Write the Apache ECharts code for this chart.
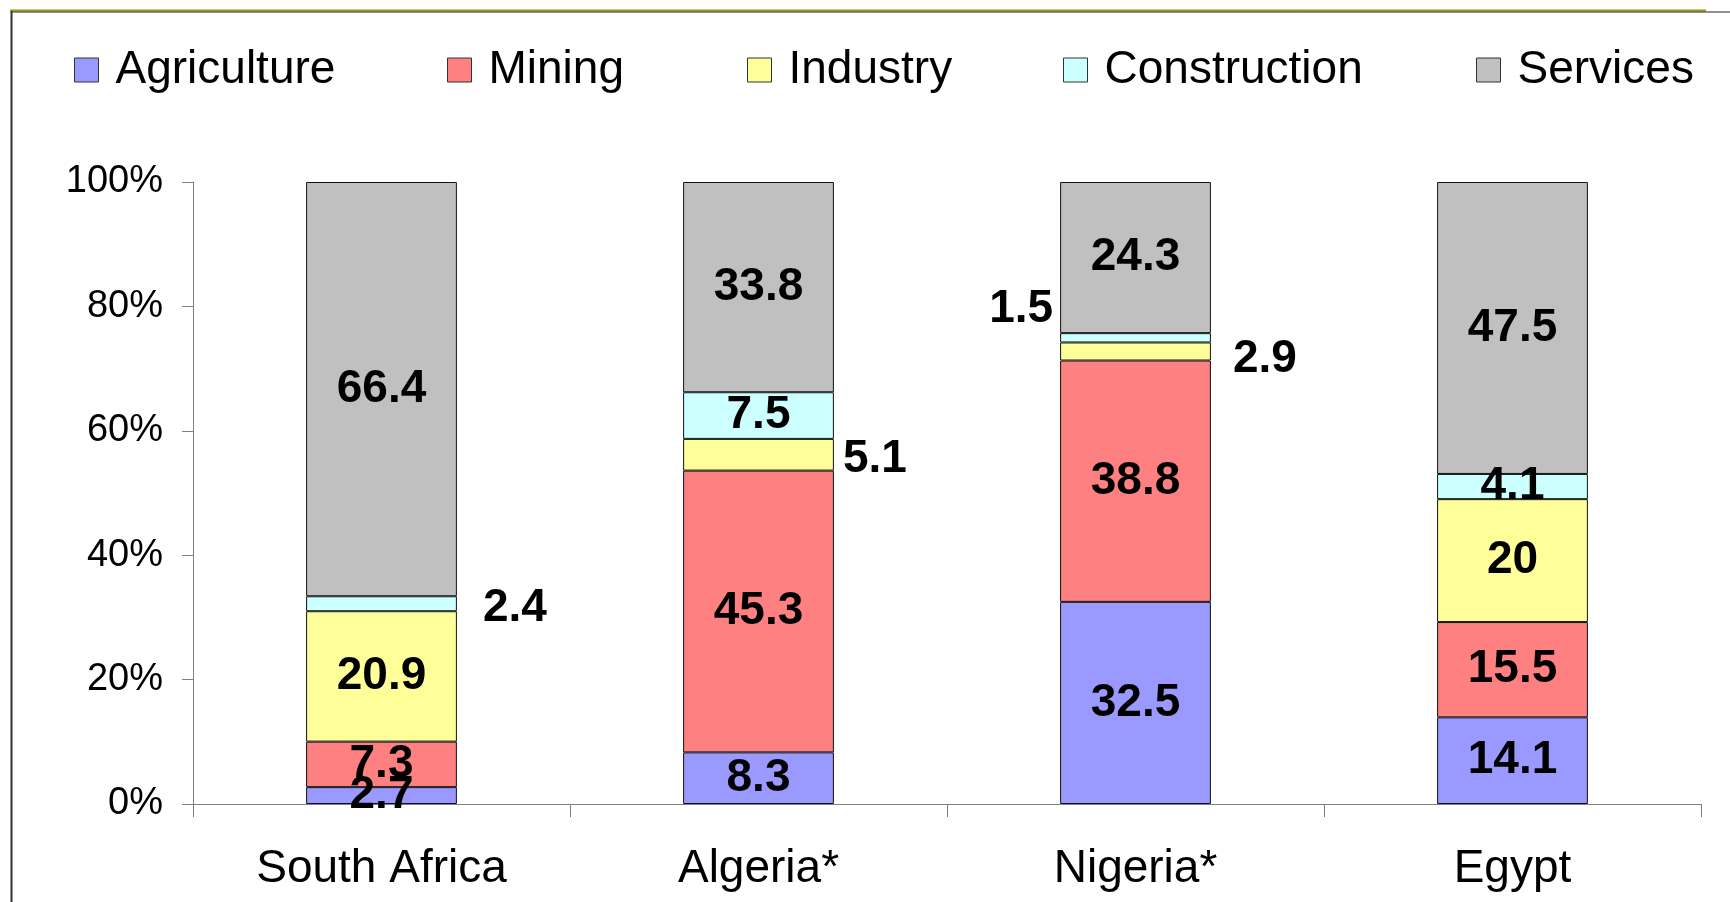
<!DOCTYPE html>
<html>
	<head>
		<meta charset="utf-8">
		<title></title>
		<style>
			html, body { margin: 0; padding: 0; background: #fff; }
		</style>
	</head>
	<body>
		<div id='chart' style="width: 1730px; height: 902px;"></div>
	</body>
	<script src='https://cdn.jsdelivr.net/npm/echarts@6/dist/echarts.min.js'></script>
	<script>

	// data
	var countries = ['South Africa', 'Algeria*', 'Nigeria*', 'Egypt'];
	var agriculture = [2.7, 8.3, 32.5, 14.1];
	var mining = [7.3, 45.3, 38.8, 15.5];
	var industry = [20.9, 5.1, 2.9, 20];
	var construction = [2.4, 7.5, 1.5, 4.1];
	var services = [66.4, 33.8, 24.3, 47.5];
	var yTicks = [0, 20, 40, 60, 80, 100];

	var sectors = ['Agriculture', 'Mining', 'Industry', 'Construction', 'Services'];
	var colors = ['#9999FF', '#FF8080', '#FFFF99', '#CCFFFF', '#C0C0C0'];
	var values = [agriculture, mining, industry, construction, services];

	var font = 'Liberation Sans, Arial, sans-serif';

	// labels that sit outside the bar: [series, category] -> label settings
	var labelMoves = {
		'3-0': { position: 'right', distance: 26, offset: [0, 5] },
		'2-1': { position: 'right', distance: 9, offset: [0, 5] },
		'2-2': { position: 'right', distance: 22, offset: [0, 8] },
		'3-2': { position: 'left', distance: 7, offset: [0, -28] }
	};

	// totals per country (bars are drawn as 100% stacks)
	var totals = countries.map(function(c, j){
		var s = 0;
		values.forEach(function(arr){ s += arr[j]; });
		return s;
	});

	var legendLeft = [74, 447, 747, 1063, 1476];

	var series = sectors.map(function(name, i){
		return {
			name: name,
			type: 'bar',
			stack: 'total',
			barWidth: '40%',
			animation: false,
			itemStyle: {
				color: colors[i],
				borderColor: '#111',
				borderWidth: 1
			},
			label: {
				show: true,
				position: 'inside',
				color: '#000',
				fontSize: 46,
				fontWeight: 'bold',
				fontFamily: font,
				formatter: function(p){
					return String(values[i][p.dataIndex]);
				}
			},
			data: values[i].map(function(v, j){
				var item = { value: v / totals[j] * 100 };
				var mv = labelMoves[i + '-' + j];
				if (mv) item.label = mv;
				return item;
			})
		};
	});

	var legends = sectors.map(function(name, i){
		return {
			data: [name],
			left: legendLeft[i],
			top: 47,
			padding: 0,
			icon: 'rect',
			itemWidth: 24,
			itemHeight: 24,
			itemStyle: { borderColor: '#333', borderWidth: 1 },
			selectedMode: false,
			textStyle: {
				fontSize: 46,
				color: '#000',
				fontFamily: font,
				padding: [0, 0, 0, 12]
			}
		};
	});

	option = {
		backgroundColor: '#fff',
		animation: false,
		legend: legends,
		grid: {
			left: 193,
			right: 29,
			top: 182,
			bottom: 98
		},
		xAxis: {
			type: 'category',
			data: countries,
			axisLine: { lineStyle: { color: '#808080', width: 1 } },
			axisTick: { show: true, length: 13, lineStyle: { color: '#808080' } },
			axisLabel: {
				fontSize: 46,
				color: '#000',
				fontFamily: font,
				margin: 42
			}
		},
		yAxis: {
			type: 'value',
			min: yTicks[0],
			max: yTicks[yTicks.length - 1],
			interval: yTicks[1] - yTicks[0],
			splitLine: { show: false },
			axisLine: { show: true, lineStyle: { color: '#808080', width: 1 } },
			axisTick: { show: true, length: 11, lineStyle: { color: '#808080' } },
			axisLabel: {
				fontSize: 38,
				color: '#000',
				fontFamily: font,
				margin: 30,
				formatter: '{value}%'
			}
		},
		graphic: [
			{ type: 'line', shape: { x1: 10, y1: 10.5, x2: 1706, y2: 10.5 }, style: { stroke: '#999900', lineWidth: 2 } },
			{ type: 'line', shape: { x1: 11, y1: 12, x2: 1730, y2: 12 }, style: { stroke: '#222', lineWidth: 1 } },
			{ type: 'line', shape: { x1: 11.5, y1: 11, x2: 11.5, y2: 902 }, style: { stroke: '#333', lineWidth: 2 } }
		],
		series: series
	};

	var chart = echarts.init(document.getElementById('chart'));
	chart.setOption(option);

	</script>
</html>
